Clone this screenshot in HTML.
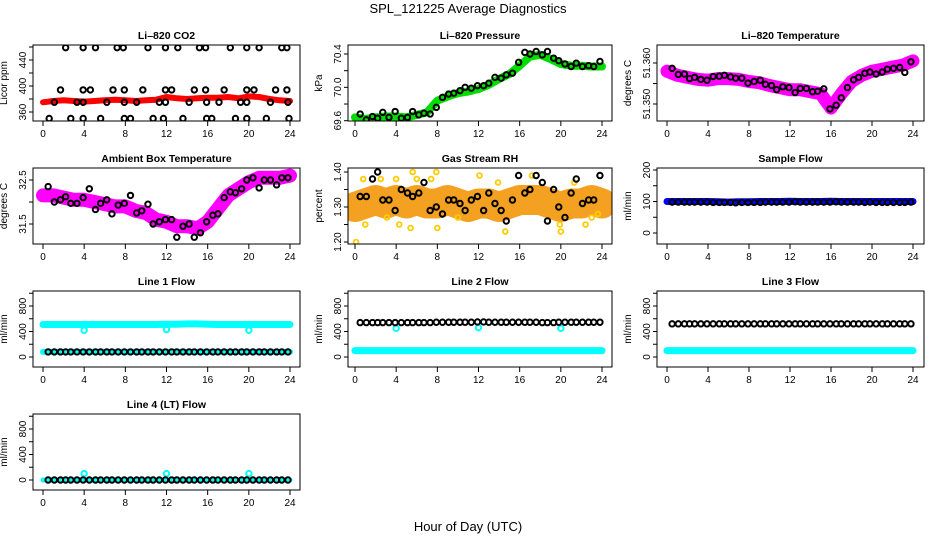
<!DOCTYPE html>
<html><head><meta charset="utf-8"><style>
html,body{margin:0;padding:0;background:#fff;}
svg{display:block;font-family:"Liberation Sans",sans-serif;}
</style></head><body>
<svg id="chart" width="936" height="540" viewBox="0 0 936 540" xmlns="http://www.w3.org/2000/svg">
<text x="468" y="13" text-anchor="middle" font-size="13">SPL_121225  Average Diagnostics</text>
<text x="468" y="531" text-anchor="middle" font-size="13">Hour of Day (UTC)</text>
</svg>
<script>
const HRS=[0,1,2,3,4,5,6,7,8,9,10,11,12,13,14,15,16,17,18,19,20,21,22,23,24];
const BT=[0.5,1.1,1.7,2.2,2.7,3.3,3.9,4.5,5.1,5.6,6.2,6.7,7.3,7.9,8.5,9.1,9.6,10.2,10.7,11.3,11.9,12.5,13.0,13.6,14.2,14.7,15.3,15.9,16.5,17.0,17.6,18.2,18.7,19.3,19.8,20.4,21.0,21.5,22.1,22.7,23.2,23.8];
const xTickLabels=[0,4,8,12,16,20,24];
// CO2
const co2Cloud=[375,377,378,377,376,377,378,379,378,377,378,379,383,381,380,381,382,382,383,381,384,383,380,378,377];
const co2T=[2.2,3.9,5.1,7.2,7.8,10.2,11.9,13.1,15.2,15.8,18.2,19.8,21,23.2,23.7,1.7,3.9,4.6,6.8,7.9,9.7,11.9,12.5,14.7,15.8,17.6,19.8,20.5,22.6,23.7,1.1,3.3,3.9,6.2,7.9,9.1,11.3,11.9,14.2,15.9,17.1,19.2,19.8,22.1,23.8,0.6,2.7,3.9,5.6,7.9,8.5,10.7,11.7,13.6,15.9,16.4,18.7,19.8,21.7,23.9];
const co2V=[459,459,459,459,459,459,459,459,459,459,459,459,459,459,459,394,394,394,394,394,394,394,394,394,394,394,394,394,394,394,375,375,375,375,375,375,375,375,375,375,375,375,375,375,375,350,350,350,350,350,350,350,350,350,350,350,350,350,350,350];
// Pressure
const presCloud=[69.64,69.62,69.64,69.65,69.65,69.64,69.67,69.70,69.84,69.89,69.93,69.95,69.98,70.03,70.10,70.16,70.26,70.37,70.39,70.34,70.28,70.26,70.26,70.25,70.25];
const presBlack=[69.68,69.61,69.65,69.63,69.70,69.64,69.71,69.63,69.64,69.71,69.67,69.69,69.68,69.76,69.88,69.92,69.93,69.96,70.00,69.99,70.02,70.02,70.05,70.12,70.11,70.15,70.17,70.30,70.42,70.40,70.43,70.39,70.43,70.35,70.32,70.28,70.25,70.29,70.25,70.26,70.25,70.31];
// Li-820 temperature
const tempCloud=[51.3580,51.3570,51.3565,51.3560,51.3558,51.3562,51.3562,51.3560,51.3555,51.3552,51.3545,51.3540,51.3535,51.3535,51.3530,51.3525,51.3490,51.3525,51.3555,51.3570,51.3580,51.3585,51.3590,51.3595,51.3605];
const tempBlack=[51.3587,51.3572,51.3573,51.3562,51.3565,51.3560,51.3558,51.3567,51.3568,51.3570,51.3566,51.3563,51.3563,51.3551,51.3555,51.3558,51.3548,51.3545,51.3535,51.3542,51.3540,51.3528,51.3538,51.3538,51.3530,51.3531,51.3537,51.3488,51.3497,51.3515,51.3540,51.3559,51.3565,51.3575,51.3578,51.3573,51.3578,51.3585,51.3587,51.3589,51.3577,51.3603];
// Ambient
const ambCloud=[32.15,32.15,32.1,32.05,32.05,32.0,31.95,31.9,31.9,31.8,31.75,31.6,31.55,31.45,31.45,31.4,31.55,31.85,32.15,32.3,32.45,32.55,32.55,32.55,32.6];
const ambBlack=[32.35,32.0,32.05,32.12,31.97,31.97,32.1,32.3,31.83,31.97,32.05,31.73,31.93,31.97,32.15,31.75,31.8,31.95,31.5,31.55,31.6,31.6,31.2,31.45,31.5,31.2,31.3,31.55,31.7,31.73,32.1,32.23,32.21,32.3,32.5,32.55,32.32,32.5,32.5,32.39,32.55,32.55];
// RH
const rhCloud=[1.30,1.31,1.32,1.31,1.32,1.31,1.32,1.31,1.31,1.32,1.31,1.30,1.31,1.31,1.30,1.31,1.32,1.32,1.32,1.31,1.30,1.31,1.31,1.32,1.31];
const rhBlack=[1.33,1.33,1.38,1.40,1.32,1.32,1.29,1.35,1.34,1.33,1.34,1.37,1.29,1.30,1.28,1.32,1.32,1.31,1.29,1.32,1.33,1.29,1.34,1.31,1.29,1.26,1.32,1.39,1.34,1.35,1.39,1.37,1.26,1.35,1.30,1.27,1.34,1.38,1.31,1.32,1.32,1.39];
const rhOutT=[0.1,0.8,1.0,2.5,3.1,4.0,4.3,5.4,5.6,6.0,7.4,7.9,8.0,10.0,12.1,13.9,14.6,17.2,19.9,20.0,21.3,22.4,23.0,23.6];
const rhOutV=[1.20,1.38,1.25,1.38,1.27,1.38,1.25,1.24,1.40,1.38,1.38,1.40,1.24,1.27,1.39,1.37,1.23,1.39,1.25,1.23,1.37,1.25,1.27,1.28];
// Sample flow
const sampCloud=[100,100,100,100,100,99,98,99,99,100,100,100,101,100,100,100,101,100,100,100,100,100,100,100,100];
const sampBlack=[98,98,98,98,98,98,98,97,97,97,97,96,97,97,97,97,98,98,98,98,98,99,98,98,98,98,98,98,99,98,98,98,98,97,98,97,97,97,97,97,97,98];
// Line flows
const l1Cyan=[510,510,510,510,510,510,510,510,510,510,510,510,515,515,520,520,515,510,510,510,510,510,510,510,510];
const l1Black=[80,80,80,80,80,80,80,80,80,80,80,80,80,80,80,80,80,80,80,80,80,80,80,80,80,80,80,80,80,80,80,80,80,80,80,80,80,80,80,80,80,80];
const l2Cyan=[100,100,100,100,100,100,100,100,100,100,100,100,100,100,100,100,100,100,100,100,100,100,100,100,100];
const l2Black=[540,540,540,540,540,540,540,540,540,540,540,540,540,545,545,545,545,545,545,545,550,550,545,545,545,545,545,545,545,545,545,540,540,540,545,545,545,545,545,545,545,545];
const l3Cyan=[100,100,100,100,100,100,100,100,100,100,100,100,100,100,100,100,100,100,100,100,100,100,100,100,100];
const l3Black=[520,520,520,520,520,520,520,520,520,520,520,520,520,520,520,520,520,520,520,520,520,520,520,520,520,520,520,520,520,520,520,520,520,520,520,520,520,520,520,520,520,520];
const l4Cyan=[0,0,0,0,0,0,0,0,0,0,0,0,0,0,0,0,0,0,0,0,0,0,0,0,0];
const l4Black=[0,0,0,0,0,0,0,0,0,0,0,0,0,0,0,0,0,0,0,0,0,0,0,0,0,0,0,0,0,0,0,0,0,0,0,0,0,0,0,0,0,0];
const dipT=[4,12,20];
const l1Dip=[420,430,420];
const l2Dip=[450,460,450];
const l4Spike=[100,100,100];

const NS='http://www.w3.org/2000/svg';
const svg=document.getElementById('chart');
function mk(tag,attrs,parent){const e=document.createElementNS(NS,tag);for(const k in attrs)e.setAttribute(k,attrs[k]);(parent||svg).appendChild(e);return e;}
const COLS=[{bx0:33,bx1:300,t0:43,t24:290},{bx0:348,bx1:612,t0:355,t24:602},{bx0:657,bx1:924,t0:667,t24:913}];
const ROWS=[{y0:45,y1:121},{y0:168,y1:244},{y0:291,y1:367},{y0:414,y1:490}];

function panel(name,title,ylab,col,row,v1,p1,v2,p2,ticks,labels,fmt){
  const c=COLS[col],r=ROWS[row];
  const g=mk('g',{});
  
  
  const xs=t=>c.t0+(c.t24-c.t0)*t/24;
  const ys=v=>p1+(v-v1)*(p2-p1)/(v2-v1);
  const cp=mk('clipPath',{id:'cp-'+name},g);
  mk('rect',{x:c.bx0,y:r.y0,width:c.bx1-c.bx0,height:r.y1-r.y0},cp);
  const plot=mk('g',{'clip-path':'url(#cp-'+name+')'},g);
  
  
  const t=mk('text',{x:(c.bx0+c.bx1)/2,y:r.y0-6,'text-anchor':'middle','font-size':'10.5','font-weight':'bold'},g);
  t.textContent=title;
  
  
  const yl=mk('text',{transform:`translate(${c.bx0-26},${(r.y0+r.y1)/2}) rotate(-90)`,'text-anchor':'middle','font-size':'10'},g);
  yl.textContent=ylab;
  
  
  const box=mk('rect',{x:c.bx0,y:r.y0,width:c.bx1-c.bx0,height:r.y1-r.y0,fill:'none',stroke:'#000','stroke-width':1},g);
  
  
  xTickLabels.forEach(v=>{
    const x=xs(v);
    mk('line',{x1:x,x2:x,y1:r.y1,y2:r.y1+5,stroke:'#000'},g);
    const tl=mk('text',{x:x,y:r.y1+16,'text-anchor':'middle','font-size':'10'},g);
    tl.textContent=v;
    
    
  });
  ticks.forEach(v=>{
    const y=ys(v);
    if(y<r.y0-1||y>r.y1+1)return;
    mk('line',{x1:c.bx0-4,x2:c.bx0,y1:y,y2:y,stroke:'#000'},g);
  });
  labels.forEach(v=>{
    const y=ys(v);
    const tl=mk('text',{transform:`translate(${c.bx0-7},${y}) rotate(-90)`,'text-anchor':'middle','font-size':'10'},g);
    tl.textContent=fmt?fmt(v):v;
    
    
  });
  return {xs,ys,plot};
}
function band(P,ts,vs,color,w,name){
  const d=ts.map((t,i)=>(i?'L':'M')+P.xs(t).toFixed(1)+','+P.ys(vs[i]).toFixed(1)).join(' ');
  const p=mk('path',{d:d,fill:'none',stroke:color,'stroke-width':w,'stroke-linecap':'round','stroke-linejoin':'round'},P.plot);
  
  
}
function dots(P,ts,vs,color,name,r,sw){
  const g=mk('g',{},P.plot);
  
  
  ts.forEach((t,i)=>{
    const c=mk('circle',{cx:P.xs(t),cy:P.ys(vs[i]),r:r||2.7,fill:'none',stroke:color,'stroke-width':sw||2},g);
    
    
  });
}
let P=panel('co2','Li\u2013820 CO2','Licor ppm',0,0,360,112,440,60,[360,380,400,420,440,460],[360,400,440]);
band(P,HRS,co2Cloud,'#ff0000',6,'co2-series');
dots(P,co2T,co2V,'#000','co2-black-points');
P=panel('pressure','Li\u2013820 Pressure','kPa',1,0,69.6,120.7,70.4,54,[69.6,69.8,70.0,70.2,70.4],[69.6,70.0,70.4],v=>v.toFixed(1));
band(P,HRS,presCloud,'#00dd00',8,'pressure-series');
dots(P,BT,presBlack,'#000','pressure-black-points');
P=panel('li820-temp','Li\u2013820 Temperature','degrees C',2,0,51.350,104,51.360,63,[51.350,51.355,51.360],[51.350,51.360],v=>v.toFixed(3));
band(P,HRS,tempCloud,'#ff00ff',13,'temp-series');
dots(P,BT,tempBlack,'#000','temp-black-points');
P=panel('ambient','Ambient Box Temperature','degrees C',0,1,32.5,180,31.5,224,[31.5,32.0,32.5],[31.5,32.5],v=>v.toFixed(1));
band(P,HRS,ambCloud,'#ff00ff',14,'ambient-series');
dots(P,BT,ambBlack,'#000','ambient-black-points');
P=panel('rh','Gas Stream RH','percent',1,1,1.40,172,1.20,242,[1.20,1.25,1.30,1.35,1.40],[1.20,1.30,1.40],v=>v.toFixed(2));
band(P,HRS,rhCloud,'#f4a020',30,'rh-series');
dots(P,rhOutT,rhOutV,'#ffcc00','rh-yellow-points',2.4,1.8);
dots(P,BT,rhBlack,'#000','rh-black-points');
P=panel('sample-flow','Sample Flow','ml/min',2,1,0,233,200,170,[0,50,100,150,200],[0,100,200]);
band(P,HRS,sampCloud,'#0000ff',7,'sample-series');
dots(P,BT,sampBlack,'#000','sample-black-points');
const FT=[0,200,400,600,800,1000],FL=[0,400,800];
P=panel('line1','Line 1 Flow','ml/min',0,2,0,357,800,306,FT,FL);
band(P,HRS,l1Cyan,'#00ffff',7,'line1-cyan-series');
band(P,HRS,l1Black,'#00ffff',6,'line1-cyan-low');
dots(P,dipT,l1Dip,'#00ffff','line1-dips');
dots(P,BT,l1Black,'#000','line1-black-points');
P=panel('line2','Line 2 Flow','ml/min',1,2,0,357,800,306,FT,FL);
band(P,HRS,l2Cyan,'#00ffff',7,'line2-cyan-series');
dots(P,dipT,l2Dip,'#00ffff','line2-dips');
dots(P,BT,l2Black,'#000','line2-black-points');
P=panel('line3','Line 3 Flow','ml/min',2,2,0,357,800,306,FT,FL);
band(P,HRS,l3Cyan,'#00ffff',7,'line3-cyan-series');
dots(P,BT,l3Black,'#000','line3-black-points');
P=panel('line4','Line 4 (LT) Flow','ml/min',0,3,0,480,800,429,FT,FL);
band(P,HRS,l4Cyan,'#00ffff',5,'line4-cyan-series');
dots(P,dipT,l4Spike,'#00ffff','line4-spikes');
dots(P,BT,l4Black,'#000','line4-black-points');
</script>
</body></html>
